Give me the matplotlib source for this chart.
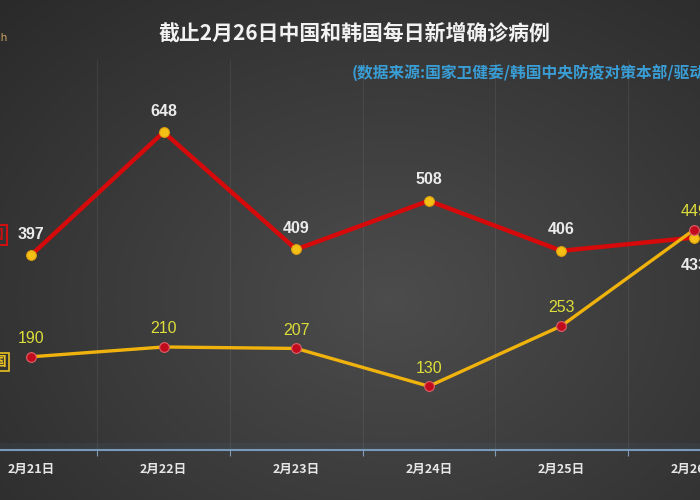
import numpy as np
import matplotlib.pyplot as plt
from matplotlib.colors import LinearSegmentedColormap

plt.rcParams['font.family'] = ['Noto Sans CJK SC', 'DejaVu Sans']

dates = ['2月21日', '2月22日', '2月23日', '2月24日', '2月25日', '2月26日']
china = [397, 648, 409, 508, 406, 433]
korea = [190, 210, 207, 130, 253, 449]

title = '截止2月26日中国和韩国每日新增确诊病例'
source = '(数据来源:国家卫健委/韩国中央防疫对策本部/驱动中国)'

fig = plt.figure(figsize=(7, 5), dpi=100)

# dark radial background
bg = fig.add_axes([0, 0, 1, 1])
yy, xx = np.mgrid[0:500, 0:700]
r = np.sqrt(((xx - 390) / 560.0) ** 2 + ((yy - 300) / 430.0) ** 2)
shade = np.clip(1 - r, 0, 1)
cmap = LinearSegmentedColormap.from_list('bg', ['#2a2a2a', '#4c4c4c'])
bg.imshow(shade, cmap=cmap, aspect='auto', extent=(0, 1, 0, 1), origin='upper')
bg.set_axis_off()

# axes placed so the view is cropped like the reference
ax = fig.add_axes([0, 0.1, 1, 0.78])
ax.set_facecolor('none')
ax.set_xlim(-0.234, 5.045)
ax.set_ylim(0, 795)

x = np.arange(len(dates))

ax.set_xticks(x)
ax.set_xticklabels(dates, color='#e6e6e6', fontsize=9, fontweight='bold')
ax.set_xticks(x[:-1] + 0.5, minor=True)
ax.tick_params(axis='x', which='major', length=0, pad=9)
ax.tick_params(axis='x', which='minor', length=4, color='#7f9cb8', width=0.8)
ax.set_yticks([])
ax.grid(axis='x', which='minor', color='#ffffff', alpha=0.07, lw=0.8)
for s in ['top', 'left', 'right']:
    ax.spines[s].set_visible(False)
ax.spines['bottom'].set_color('#7a9aba')
ax.spines['bottom'].set_linewidth(1.5)
ax.axhspan(0, 14, color='#4a7099', alpha=0.12, lw=0)

ax.plot(x, china, color='#d60a0a', lw=3.2, zorder=3,
        marker='o', ms=7, mfc='#f5c016', mec='#e0a010', mew=0.8)
ax.plot(x, korea, color='#f0b20c', lw=2.4, zorder=4,
        marker='o', ms=7, mfc='#c00c1c', mec='#e0606a', mew=0.8)

for i, v in enumerate(china):
    dy = -20 if i == len(china) - 1 else 15
    ax.annotate(str(v), (x[i], v), xytext=(0, dy), textcoords='offset points',
                ha='center', va='center', color='#ebebeb', fontsize=11.5,
                fontweight='bold', family='Liberation Sans', zorder=5)
for i, v in enumerate(korea):
    ax.annotate(str(v), (x[i], v), xytext=(0, 13), textcoords='offset points',
                ha='center', va='center', color='#dede3a', fontsize=11.5,
                family='Liberation Sans', zorder=5)

fig.text(0.507, 0.934, title, ha='center', va='center', color='#f2f2f2',
         fontsize=15, fontweight='bold')
fig.text(0.502, 0.853, source, ha='left', va='center', color='#3a9ed6',
         fontsize=11.3, fontweight='bold')
fig.text(0.012, 0.924, 'Tech', ha='right', va='center', color='#c8a060',
         fontsize=8)

# cut-off legend tags on the left edge
fig.text(0.006, 0.53, '中国', ha='right', va='center', color='#d01010',
         fontsize=10, fontweight='bold',
         bbox=dict(boxstyle='square,pad=0.2', fc='none', ec='#d01010', lw=1.5))
fig.text(0.010, 0.276, '韩国', ha='right', va='center', color='#e8c020',
         fontsize=10, fontweight='bold',
         bbox=dict(boxstyle='square,pad=0.15', fc='none', ec='#e8c020', lw=1.2))

fig.savefig('out.png', dpi=100)
